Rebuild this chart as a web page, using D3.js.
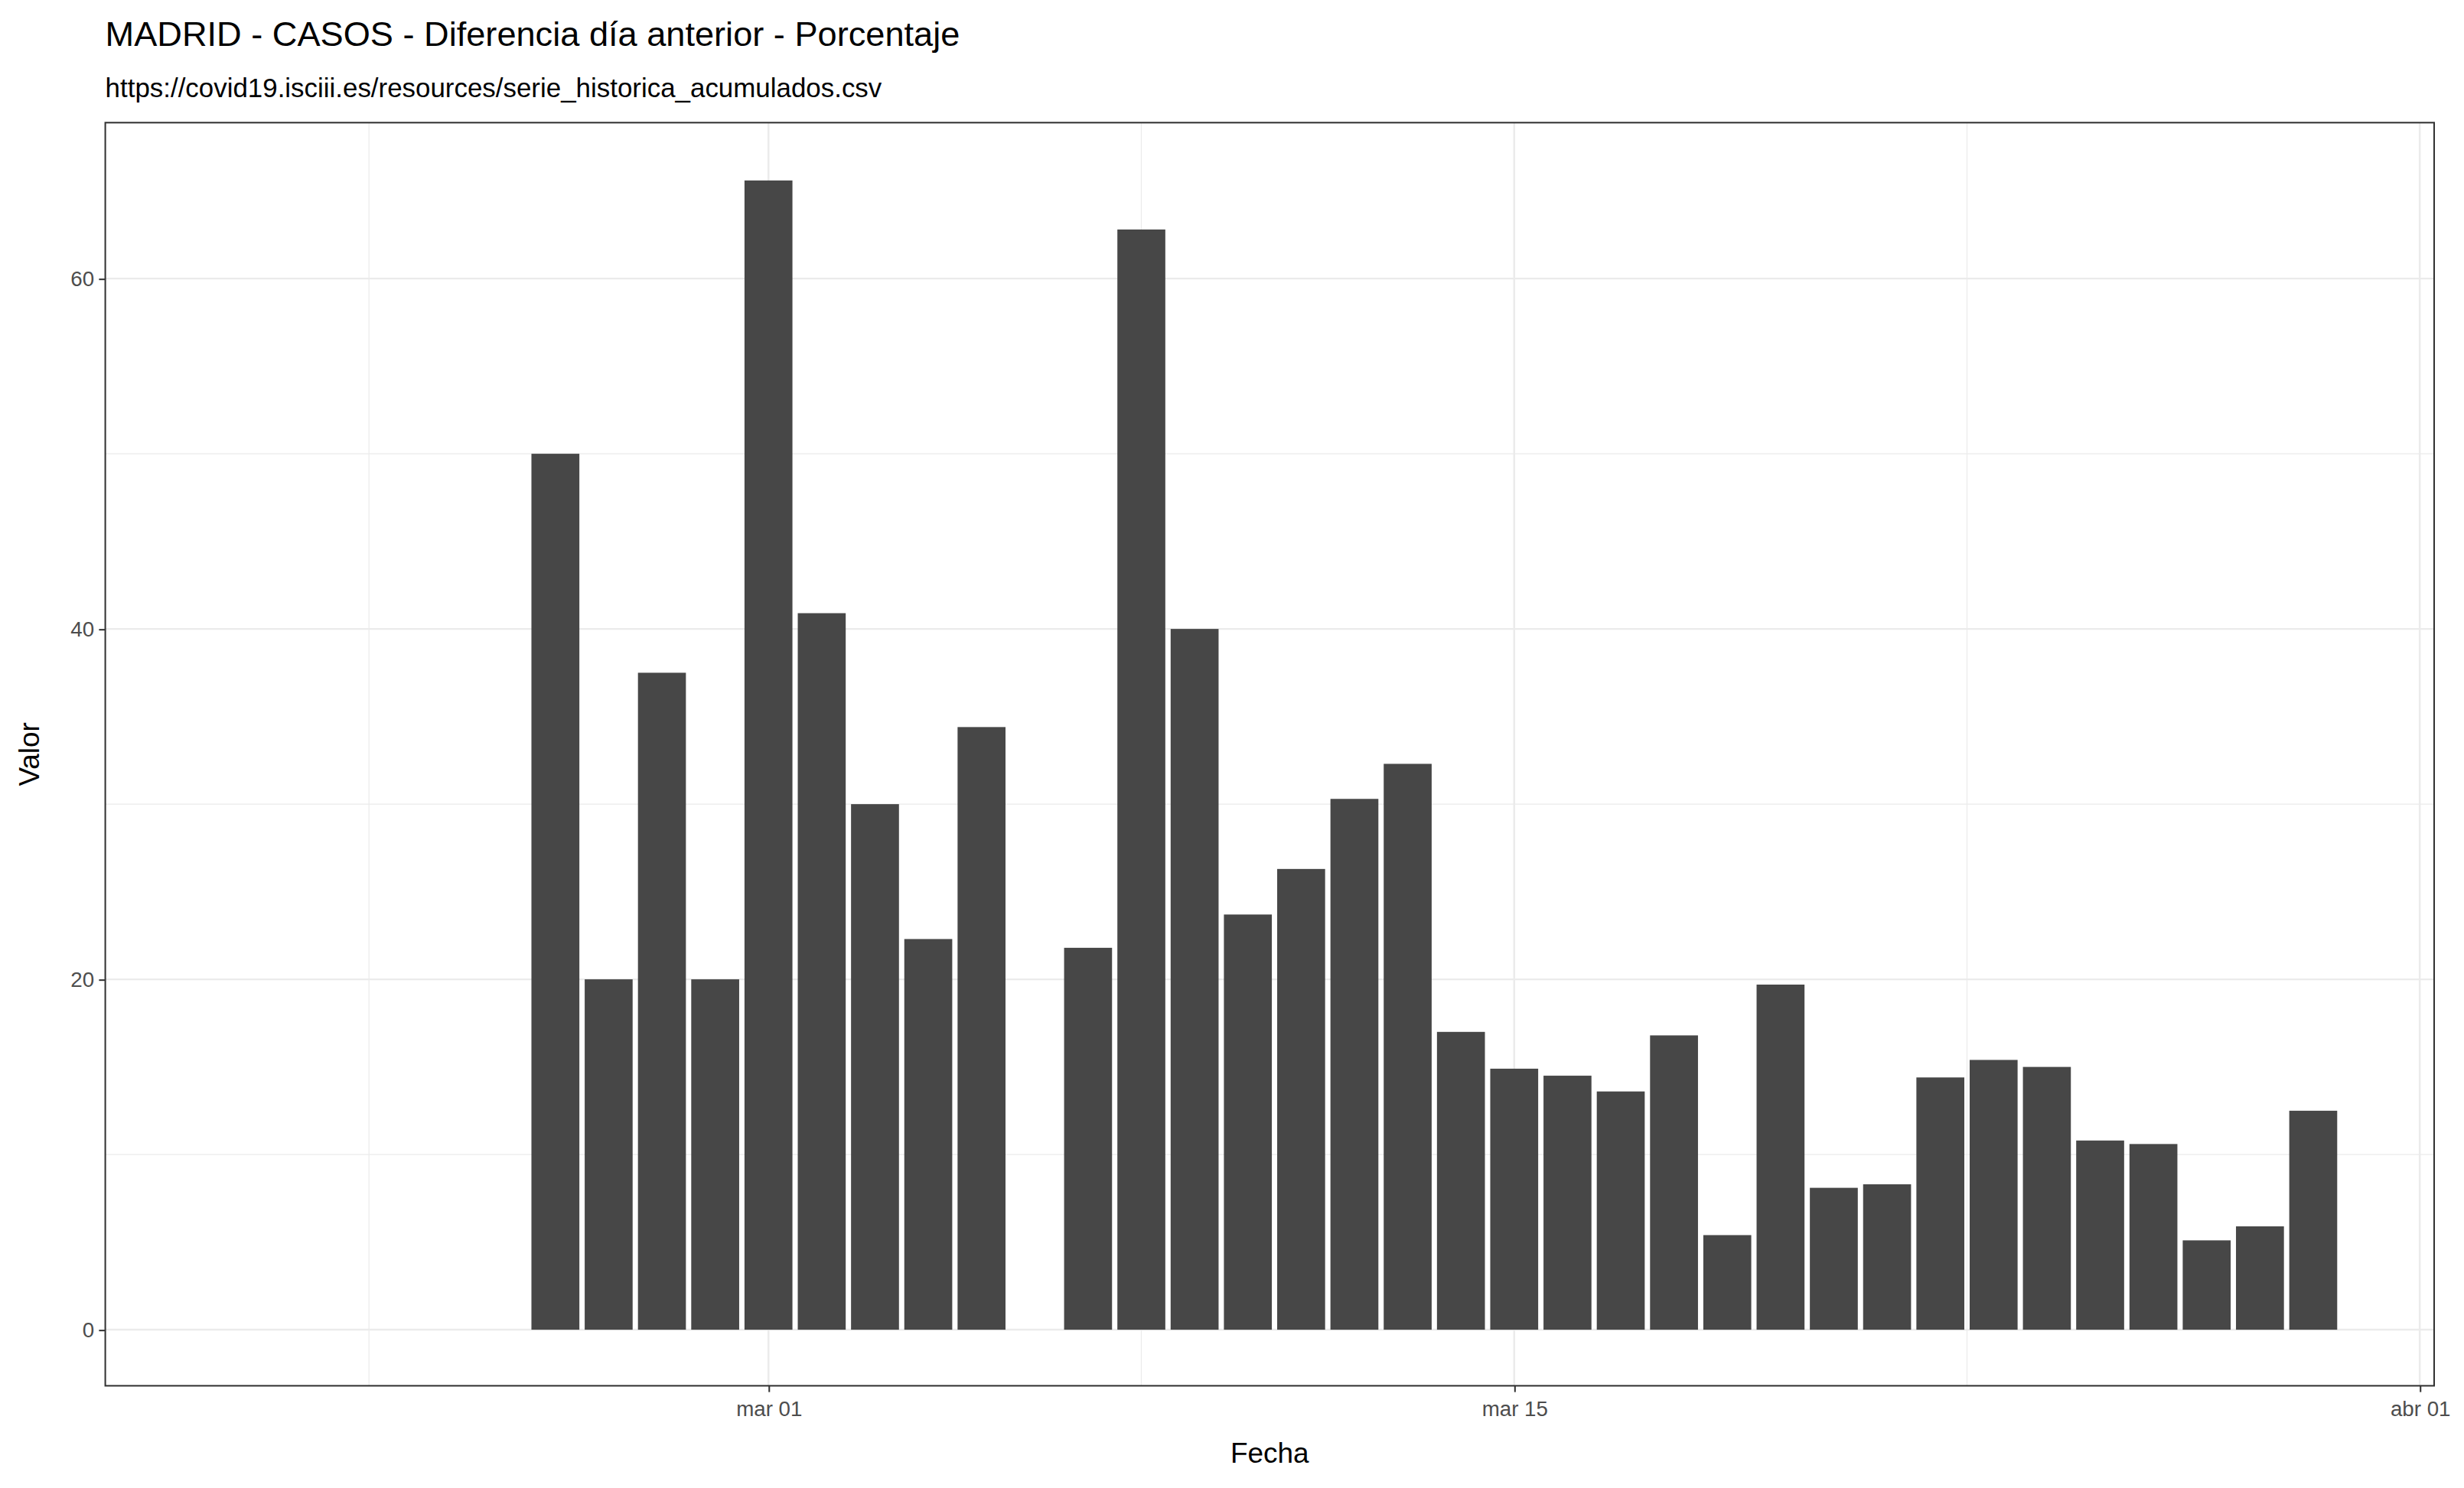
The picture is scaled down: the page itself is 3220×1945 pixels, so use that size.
<!DOCTYPE html>
<html><head><meta charset="utf-8">
<script src="https://cdn.jsdelivr.net/npm/d3@7"></script>
<style>body{margin:0;background:#fff}text{font-family:"Liberation Sans",Arial,sans-serif}</style>
</head><body>
<script>
// datos: fecha, valor (%)
const fechas = ["2020-02-26","2020-02-27","2020-02-28","2020-02-29","2020-03-01","2020-03-02","2020-03-03","2020-03-04","2020-03-05",
  "2020-03-07","2020-03-08","2020-03-09","2020-03-10","2020-03-11","2020-03-12","2020-03-13","2020-03-14","2020-03-15","2020-03-16",
  "2020-03-17","2020-03-18","2020-03-19","2020-03-20","2020-03-21","2020-03-22","2020-03-23","2020-03-24","2020-03-25","2020-03-26",
  "2020-03-27","2020-03-28","2020-03-29","2020-03-30"];
const valores = [50,20,37.5,20,65.6,40.9,30,22.3,34.4,
  21.8,62.8,40,23.7,26.3,30.3,32.3,17,14.9,14.5,
  13.6,16.8,5.4,19.7,8.1,8.3,14.4,15.4,15,10.8,
  10.6,5.1,5.9,12.5];
const xTicks = ["2020-03-01","2020-03-15","2020-04-01"];
const xTickLabels = ["mar 01","mar 15","abr 01"];
const xMinor = ["2020-02-22T12:00","2020-03-08","2020-03-23T12:00"];
const yTicks = [0,20,40,60];
const yMinor = [10,30,50];

const day = 864e5, mar1 = new Date("2020-03-01T00:00");
const W = 1568, H = 947, m = {l:67, r:19, t:78, b:65};
const svg = d3.select("body").append("svg").attr("width",3220).attr("height",1945).attr("viewBox",`0 0 ${W} ${H}`);
const x = d3.scaleTime().domain([new Date(+mar1 - 12.45*day), new Date(+mar1 + 31.27*day)]).range([m.l, W-m.r]);
const y = d3.scaleLinear().domain([-3.2, 68.9]).range([H-m.b, m.t]);
const p = s => new Date(s.length>10 ? s : s+"T00:00");
const g = svg.append("g");
g.selectAll(".vm").data(xMinor).join("line").attr("x1",d=>x(p(d))).attr("x2",d=>x(p(d))).attr("y1",m.t).attr("y2",H-m.b).attr("stroke","#ebebeb").attr("stroke-width",0.6);
g.selectAll(".hm").data(yMinor).join("line").attr("y1",d=>y(d)).attr("y2",d=>y(d)).attr("x1",m.l).attr("x2",W-m.r).attr("stroke","#ebebeb").attr("stroke-width",0.6);
g.selectAll(".vM").data(xTicks).join("line").attr("x1",d=>x(p(d))).attr("x2",d=>x(p(d))).attr("y1",m.t).attr("y2",H-m.b).attr("stroke","#ebebeb").attr("stroke-width",1.2);
g.selectAll(".hM").data(yTicks).join("line").attr("y1",d=>y(d)).attr("y2",d=>y(d)).attr("x1",m.l).attr("x2",W-m.r).attr("stroke","#ebebeb").attr("stroke-width",1.2);
const bw = (x(new Date(+mar1+day)) - x(mar1))*0.9;
svg.selectAll("rect.bar").data(fechas).join("rect").attr("class","bar")
  .attr("x",(d)=>x(p(d))-bw/2).attr("width",bw)
  .attr("y",(d,i)=>y(valores[i])).attr("height",(d,i)=>y(0)-y(valores[i])).attr("fill","#474747");
svg.append("rect").attr("x",m.l).attr("y",m.t).attr("width",W-m.l-m.r).attr("height",H-m.t-m.b).attr("fill","none").attr("stroke","#333").attr("stroke-width",1);
const ax = svg.append("g").attr("transform",`translate(0,${H-m.b})`)
  .call(d3.axisBottom(x).tickValues(xTicks.map(p)).tickFormat((d,i)=>xTickLabels[i]).tickSize(4));
ax.select(".domain").remove();
ax.selectAll("line").attr("stroke","#333");
ax.selectAll("text").attr("fill","#4d4d4d").attr("font-size",13.5).attr("dy","0.9em");
const ay = svg.append("g").attr("transform",`translate(${m.l},0)`).call(d3.axisLeft(y).tickValues(yTicks).tickSize(4));
ay.select(".domain").remove();
ay.selectAll("line").attr("stroke","#333");
ay.selectAll("text").attr("fill","#4d4d4d").attr("font-size",13.5);
svg.append("text").attr("x",67).attr("y",29).attr("font-size",22).text("MADRID - CASOS - Diferencia día anterior - Porcentaje");
svg.append("text").attr("x",67).attr("y",62).attr("font-size",17).text("https://covid19.isciii.es/resources/serie_historica_acumulados.csv");
svg.append("text").attr("x",(m.l+W-m.r)/2).attr("y",931).attr("text-anchor","middle").attr("font-size",18).text("Fecha");
svg.append("text").attr("transform",`translate(25,${(m.t+H-m.b)/2}) rotate(-90)`).attr("text-anchor","middle").attr("font-size",18).text("Valor");
</script>
</body></html>
